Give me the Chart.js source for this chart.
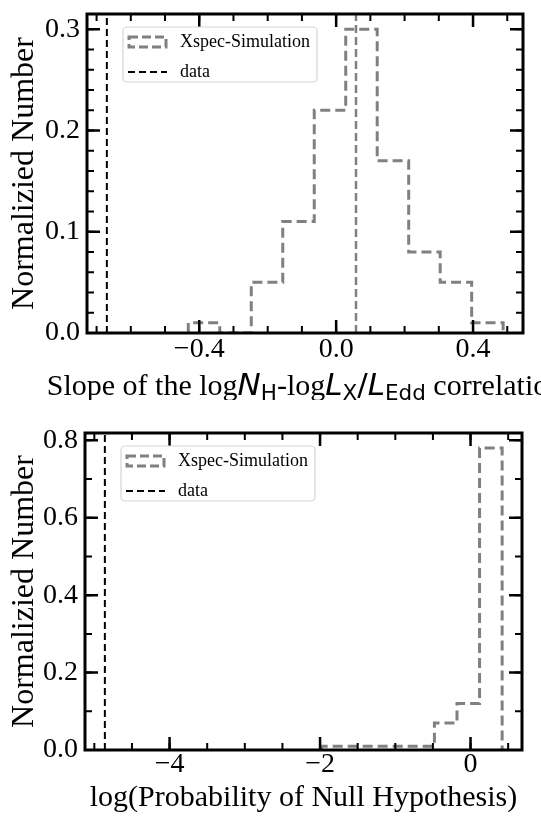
<!DOCTYPE html>
<html>
<head>
<meta charset="utf-8">
<script src="https://cdn.jsdelivr.net/npm/chart.js@4.4.1/dist/chart.umd.min.js"></script>
<style>
  html, body { margin: 0; padding: 0; background: #fff; }
  canvas { display: block; }
</style>
</head>
<body>
<canvas id="cSlope" width="541" height="400"></canvas>
<canvas id="cProb" width="541" height="416"></canvas>
<script>
// panel atas: slope logNH - logLx/LEdd
const slopeEdges = [-0.432, -0.340, -0.248, -0.156, -0.064, 0.028, 0.120, 0.212, 0.304, 0.396, 0.488];
const slopeFrac = [0.01, 0.00, 0.05, 0.11, 0.22, 0.30, 0.17, 0.08, 0.05, 0.01];
const slopeMedian = 0.058;
const slopeObs = -0.67;
const slopeXTicks = [-0.4, 0.0, 0.4];
const slopeYTicks = [0.0, 0.1, 0.2, 0.3];

// panel bawah: log(probability of null hypothesis)
const probEdges = [-1.98, -1.68, -1.38, -1.08, -0.78, -0.48, -0.18, 0.12, 0.42];
const probFrac = [0.01, 0.01, 0.01, 0.01, 0.01, 0.07, 0.12, 0.78];
const probObs = -4.86;
const probXTicks = [-4, -2, 0];
const probYTicks = [0.0, 0.2, 0.4, 0.6, 0.8];

const SERIF = '"Liberation Serif", "Times New Roman", serif';

// titik histogram tipe step
function stepPoints(edges, vals) {
    const pts = [{ x: edges[0], y: 0 }];
    vals.forEach((v, i) => {
        pts.push({ x: edges[i], y: v });
        pts.push({ x: edges[i + 1], y: v });
    });
    pts.push({ x: edges[edges.length - 1], y: 0 });
    return pts;
}

function minusFmt(digits) {
    return v => Number(v).toFixed(digits).replace('-', '\u2212');
}

// bingkai + tick ke dalam (gaya matplotlib)
const frameTicks = {
    id: 'frameTicks',
    afterDraw(chart, args, opts) {
        const { ctx, chartArea: a, scales: { x, y } } = chart;
        ctx.save();
        ctx.strokeStyle = '#000';
        const minorVals = (s, step) => {
            const out = [];
            for (let v = Math.ceil(s.min / step) * step; v <= s.max + 1e-9; v += step) out.push(v);
            return out;
        };
        const drawX = (vals, len, w) => {
            ctx.lineWidth = w;
            vals.forEach(v => {
                const p = x.getPixelForValue(v);
                if (p < a.left + 1 || p > a.right - 1) return;
                ctx.beginPath();
                ctx.moveTo(p, a.bottom); ctx.lineTo(p, a.bottom - len);
                ctx.moveTo(p, a.top); ctx.lineTo(p, a.top + len);
                ctx.stroke();
            });
        };
        const drawY = (vals, len, w) => {
            ctx.lineWidth = w;
            vals.forEach(v => {
                const p = y.getPixelForValue(v);
                if (p < a.top + 1 || p > a.bottom - 1) return;
                ctx.beginPath();
                ctx.moveTo(a.left, p); ctx.lineTo(a.left + len, p);
                ctx.moveTo(a.right, p); ctx.lineTo(a.right - len, p);
                ctx.stroke();
            });
        };
        drawX(minorVals(x, opts.xMinor), 7, 2);
        drawY(minorVals(y, opts.yMinor), 7, 2);
        drawX(x.ticks.map(t => t.value), 13, 2.5);
        drawY(y.ticks.map(t => t.value), 13, 2.5);
        ctx.lineWidth = 3;
        ctx.strokeRect(a.left, a.top, a.right - a.left, a.bottom - a.top);
        ctx.restore();
    }
};

// legenda di dalam area plot
const floatLegend = {
    id: 'floatLegend',
    afterDraw(chart) {
        const { ctx, chartArea: a } = chart;
        const ds = chart.data.datasets;
        const hist = ds[0];
        const obs = ds.find(d => d.label === 'data');
        const left = a.left + 36, top = a.top + 13, w = 194, h = 55;
        ctx.save();
        ctx.fillStyle = 'rgba(255,255,255,0.8)';
        ctx.strokeStyle = '#d5d5d5';
        ctx.lineWidth = 1.2;
        ctx.beginPath();
        ctx.roundRect(left, top, w, h, 4);
        ctx.fill();
        ctx.stroke();

        // handle histogram = kotak putus-putus
        ctx.strokeStyle = hist.borderColor;
        ctx.lineWidth = 3;
        ctx.setLineDash([9, 4]);
        ctx.strokeRect(left + 6, top + 10, 37, 10);
        // handle data = garis putus-putus
        ctx.strokeStyle = obs.borderColor;
        ctx.lineWidth = 2;
        ctx.setLineDash([7, 4]);
        ctx.beginPath();
        ctx.moveTo(left + 5, top + 45);
        ctx.lineTo(left + 44, top + 45);
        ctx.stroke();
        ctx.setLineDash([]);

        ctx.fillStyle = '#000';
        ctx.font = '18px ' + SERIF;
        ctx.textBaseline = 'middle';
        ctx.fillText(hist.label, left + 57, top + 15);
        ctx.fillText(obs.label, left + 57, top + 45);
        ctx.restore();
    }
};

// judul sumbu x dengan subscript / italic
const richTitle = {
    id: 'richTitle',
    afterDraw(chart, args, opts) {
        if (!opts.parts) return;
        const { ctx, chartArea: a } = chart;
        ctx.save();
        ctx.fillStyle = '#000';
        ctx.textBaseline = 'alphabetic';
        ctx.textAlign = 'left';
        let total = 0;
        opts.parts.forEach(s => { ctx.font = s.font; s.w = ctx.measureText(s.text).width; total += s.w; });
        let x = (a.left + a.right) / 2 - total / 2;
        opts.parts.forEach(s => {
            ctx.font = s.font;
            ctx.fillText(s.text, x, opts.baseline + (s.dy || 0));
            x += s.w;
        });
        ctx.restore();
    }
};

function makeChart(id, p) {
    const datasets = [{
        label: 'Xspec-Simulation',
        data: stepPoints(p.edges, p.frac),
        borderColor: 'gray', borderWidth: 3, borderDash: [10, 5]
    }];
    if (p.median !== null) {
        datasets.push({
            label: 'median',
            data: [{ x: p.median, y: 0 }, { x: p.median, y: p.yMax }],
            borderColor: 'gray', borderWidth: 2.5, borderDash: [8, 4]
        });
    }
    datasets.push({
        label: 'data',
        data: [{ x: p.obs, y: 0 }, { x: p.obs, y: p.yMax }],
        borderColor: '#000', borderWidth: 2, borderDash: [7, 4]
    });
    datasets.forEach(d => { d.showLine = true; d.pointRadius = 0; d.tension = 0; d.fill = false; });

    return new Chart(document.getElementById(id), {
        type: 'scatter',
        data: { datasets: datasets },
        plugins: [frameTicks, floatLegend, richTitle],
        options: {
            responsive: false,
            animation: false,
            layout: { padding: { top: p.area.top, right: p.canvasW - p.area.right, left: 0, bottom: 0 } },
            plugins: {
                legend: { display: false },
                tooltip: { enabled: false },
                frameTicks: { xMinor: p.xMinor, yMinor: p.yMinor },
                richTitle: p.richTitle || {}
            },
            scales: {
                x: {
                    type: 'linear', min: p.xMin, max: p.xMax,
                    grid: { display: false, drawTicks: false, tickLength: 0 },
                    border: { display: false },
                    ticks: {
                        color: '#000', padding: p.xTickPad, autoSkip: false, maxRotation: 0,
                        font: { family: SERIF, size: 28, lineHeight: 1 },
                        callback: p.fmtX
                    },
                    title: p.xTitle ? {
                        display: true, text: p.xTitle, color: '#000',
                        font: { family: SERIF, size: 30 }, padding: { top: 0, bottom: 0 }
                    } : { display: false },
                    afterBuildTicks: s => { s.ticks = p.xTicks.map(v => ({ value: v })); },
                    afterFit: s => { s.height = p.canvasH - p.area.bottom; s.paddingLeft = 0; s.paddingRight = 0; }
                },
                y: {
                    type: 'linear', min: 0, max: p.yMax,
                    grid: { display: false, drawTicks: false, tickLength: 0 },
                    border: { display: false },
                    ticks: {
                        color: '#000', padding: 7, autoSkip: false,
                        font: { family: SERIF, size: 28, lineHeight: 1 },
                        callback: minusFmt(1)
                    },
                    title: {
                        display: true, text: 'Normalizied Number', color: '#000',
                        font: { family: SERIF, size: 32 }, padding: { top: 5, bottom: 0 }
                    },
                    afterBuildTicks: s => { s.ticks = p.yTicks.map(v => ({ value: v })); },
                    afterFit: s => { s.width = p.area.left; s.paddingTop = 0; s.paddingBottom = 0; }
                }
            }
        }
    });
}

const mathSans = 'DejaVu Sans';
makeChart('cSlope', {
    canvasW: 541, canvasH: 400,
    area: { left: 87, top: 14, right: 523, bottom: 333 },
    edges: slopeEdges, frac: slopeFrac, median: slopeMedian, obs: slopeObs,
    xMin: -0.728, xMax: 0.546, yMax: 0.315,
    xTicks: slopeXTicks, yTicks: slopeYTicks, xMinor: 0.1, yMinor: 0.02,
    fmtX: minusFmt(1), xTickPad: 3, xTitle: null,
    richTitle: {
        baseline: 395,
        parts: [
            { text: 'Slope of the log', font: '30px ' + SERIF },
            { text: 'N', font: 'italic 31px "' + mathSans + '"' },
            { text: 'H', font: '21.5px "' + mathSans + '"', dy: 5 },
            { text: '-log', font: '30px ' + SERIF },
            { text: 'L', font: 'italic 31px "' + mathSans + '"' },
            { text: 'X', font: '21.5px "' + mathSans + '"', dy: 5 },
            { text: '/', font: '31px "' + mathSans + '"' },
            { text: 'L', font: 'italic 31px "' + mathSans + '"' },
            { text: 'Edd', font: '21.5px "' + mathSans + '"', dy: 5 },
            { text: ' correlation', font: '30px ' + SERIF }
        ]
    }
});

makeChart('cProb', {
    canvasW: 541, canvasH: 416,
    area: { left: 85, top: 33, right: 522, bottom: 350 },
    edges: probEdges, frac: probFrac, median: null, obs: probObs,
    xMin: -5.124, xMax: 0.684, yMax: 0.819,
    xTicks: probXTicks, yTicks: probYTicks, xMinor: 0.5, yMinor: 0.1,
    fmtX: minusFmt(0), xTickPad: 1, xTitle: 'log(Probability of Null Hypothesis)'
});
</script>
</body>
</html>
